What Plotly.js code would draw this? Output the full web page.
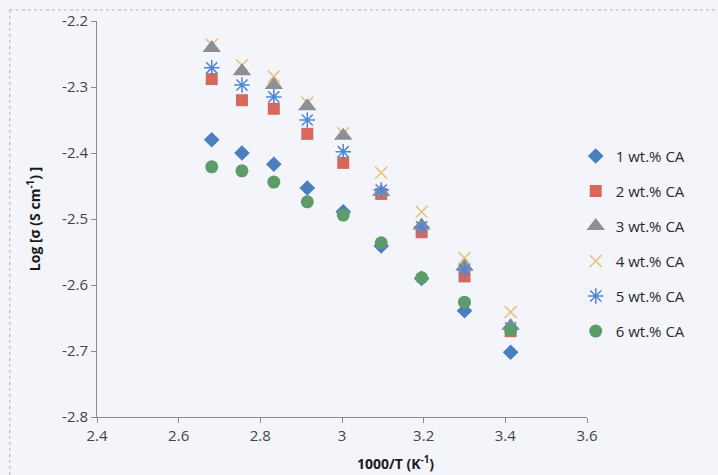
<!DOCTYPE html>
<html>
<head>
<meta charset="utf-8">
<script src="https://cdn.plot.ly/plotly-3.0.1.min.js"></script>
<style>html,body{margin:0;padding:0;background:#f3f5fa;}#chart{width:718px;height:475px;}</style>
</head>
<body>
<div id="chart"></div>
<script>
// 1000/T values (K^-1)
const invT = [2.681, 2.755, 2.833, 2.915, 3.003, 3.096, 3.195, 3.300, 3.413];

const seriesNames = ["1 wt.% CA", "2 wt.% CA", "3 wt.% CA", "4 wt.% CA", "5 wt.% CA", "6 wt.% CA"];

// Log sigma values
const ca1 = [-2.380, -2.400, -2.417, -2.453, -2.489, -2.541, -2.590, -2.639, -2.702];
const ca2 = [-2.288, -2.320, -2.333, -2.371, -2.415, -2.462, -2.520, -2.587, -2.670];
const ca3 = [-2.241, -2.276, -2.297, -2.329, -2.374, -2.459, -2.510, -2.572, -2.662];
const ca4 = [-2.236, -2.267, -2.284, -2.324, -2.370, -2.430, -2.489, -2.559, -2.641];
const ca5 = [-2.271, -2.297, -2.315, -2.350, -2.398, -2.456, -2.512, -2.577, -2.665];
const ca6 = [-2.421, -2.427, -2.444, -2.474, -2.494, -2.536, -2.589, -2.626, -2.668];

const xTicks = [2.4, 2.6, 2.8, 3.0, 3.2, 3.4, 3.6];
const xTickText = ["2.4", "2.6", "2.8", "3", "3.2", "3.4", "3.6"];
const yTicks = [-2.2, -2.3, -2.4, -2.5, -2.6, -2.7, -2.8];
const yTickText = ["-2.2", "-2.3", "-2.4", "-2.5", "-2.6", "-2.7", "-2.8"];

const allY = [ca1, ca2, ca3, ca4, ca5, ca6];
const markers = [
  {symbol: "diamond", size: 12, color: "#4a7ebf"},
  {symbol: "square", size: 12, color: "#d6695c"},
  {symbol: "triangle-up", size: 16, color: "#8e8e93"},
  {symbol: "x-thin-open", size: 12, color: "#e4c07a", line: {width: 1.5, color: "#e4c07a"}},
  {symbol: "asterisk-open", size: 13, color: "#4f86d3", line: {width: 1.5, color: "#4f86d3"}},
  {symbol: "circle", size: 13, color: "#5f9b68"}
];
// drawing order: X behind the triangles
const drawOrder = [0, 1, 3, 2, 4, 5];

const font = "'Open Sans', 'Liberation Sans', sans-serif";

const traces = drawOrder.map(i => ({
  type: "scatter",
  mode: "markers",
  x: invT,
  y: allY[i],
  name: seriesNames[i],
  legendgroup: "g" + i,
  legendrank: i + 1,
  marker: Object.assign({line: {width: 0}}, markers[i])
}));

const layout = {
  width: 718,
  height: 475,
  paper_bgcolor: "#f3f5fa",
  plot_bgcolor: "#f3f5fa",
  margin: {l: 97, r: 131, t: 21, b: 58},
  showlegend: true,
  legend: {
    x: 0.977, y: 0.70, xanchor: "left", yanchor: "top",
    font: {family: font, size: 15, color: "#2a2a2a"},
    bgcolor: "rgba(0,0,0,0)",
    tracegroupgap: 12.5,
    itemwidth: 30,
    traceorder: "grouped"
  },
  xaxis: {
    range: [2.4, 3.6],
    tickvals: xTicks,
    ticktext: xTickText,
    ticks: "outside", ticklen: 5, tickcolor: "#8a8a8a",
    showline: true, linecolor: "#8a8a8a", linewidth: 1,
    showgrid: false, zeroline: false,
    tickfont: {family: font, size: 15, color: "#444"}
  },
  yaxis: {
    range: [-2.8, -2.2],
    tickvals: yTicks,
    ticktext: yTickText,
    ticks: "outside", ticklen: 5, tickcolor: "#8a8a8a",
    showline: true, linecolor: "#8a8a8a", linewidth: 1,
    showgrid: false, zeroline: false,
    tickfont: {family: font, size: 15, color: "#444"},
    title: {text: "<b>Log [σ (S cm<sup>-1</sup>) ]</b>", font: {family: font, size: 14, color: "#1a1a1a"}, standoff: 18}
  },
  annotations: [
    {xref: "paper", yref: "paper", x: 0.61, y: -0.115, xanchor: "center", yanchor: "middle",
     showarrow: false, text: "<b>1000/T (K<sup>-1</sup>)</b>",
     font: {family: font, size: 14, color: "#1a1a1a"}}
  ],
  shapes: [
    {type: "line", xref: "paper", yref: "paper", x0: -0.178, x1: 1.3, y0: 1.028, y1: 1.028,
     line: {color: "#b0b0b0", width: 1, dash: "dot"}},
    {type: "line", xref: "paper", yref: "paper", x0: -0.178, x1: -0.178, y0: 1.028, y1: -0.2,
     line: {color: "#b0b0b0", width: 1, dash: "dot"}}
  ]
};

Plotly.newPlot("chart", traces, layout, {displayModeBar: false, staticPlot: true});
</script>
</body>
</html>
